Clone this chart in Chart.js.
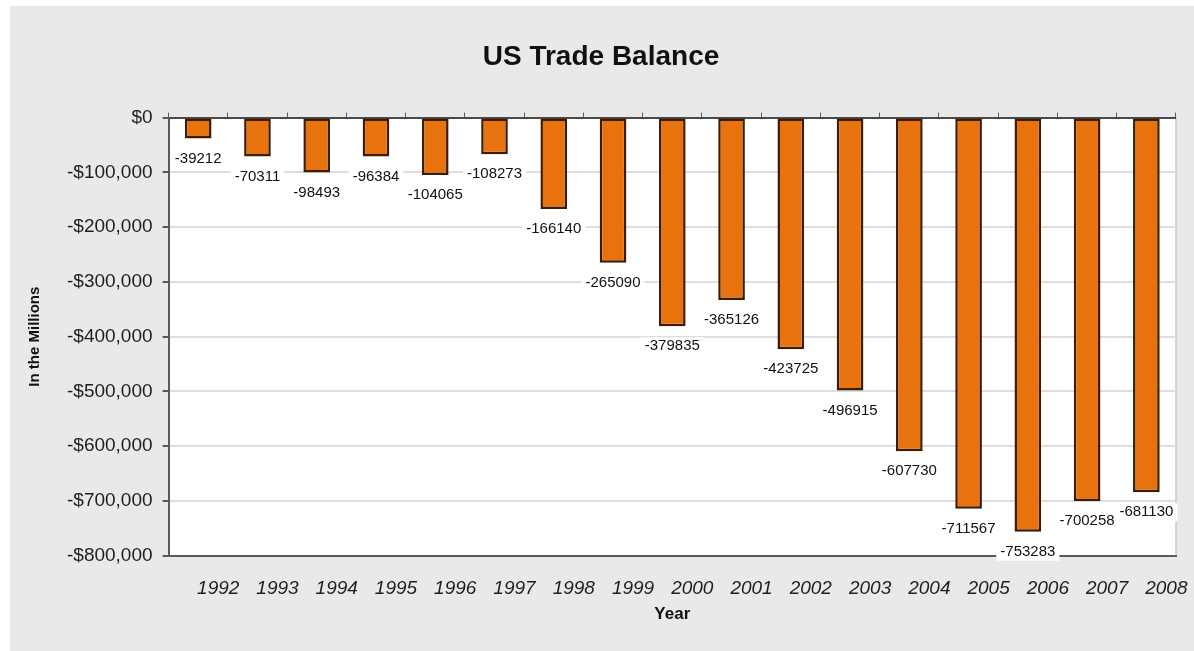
<!DOCTYPE html>
<html>
<head>
<meta charset="utf-8">
<script src="https://cdn.jsdelivr.net/npm/chart.js@4/dist/chart.umd.min.js"></script>
<style>
  html, body { margin: 0; padding: 0; background: #ffffff; }
  #wrap { position: absolute; left: 10px; top: 6px; width: 1184px; height: 645px; }
</style>
</head>
<body>
<div id="wrap"><canvas id="myChart"></canvas></div>
<script>
// Years on the x axis
var years = ['1992', '1993', '1994', '1995', '1996', '1997', '1998', '1999', '2000',
             '2001', '2002', '2003', '2004', '2005', '2006', '2007', '2008'];

// Bar heights as drawn in the picture
var barValues = [-38000, -71000, -100000, -71000, -105000, -67000, -167000, -265000, -381000,
                 -333000, -423000, -498000, -609000, -714000, -756000, -700000, -684000];

// Numbers printed under each bar
var labelValues = [-39212, -70311, -98493, -96384, -104065, -108273, -166140, -265090, -379835,
                   -365126, -423725, -496915, -607730, -711567, -753283, -700258, -681130];

// Y axis range
var yMin = -800000;
var yMax = 0;
var yStep = 100000;

var font = "'Liberation Sans', Arial, sans-serif";

// grey panel + white plot area
var backdrop = {
    id: 'backdrop',
    beforeDraw: function (chart) {
        var c = chart.ctx, a = chart.chartArea;
        c.save();
        c.fillStyle = '#e9e9e9';
        c.fillRect(0, 0, chart.width, chart.height);
        c.fillStyle = '#ffffff';
        c.fillRect(a.left, a.top, a.right - a.left, a.bottom - a.top);
        c.strokeStyle = '#c8c8c8';
        c.lineWidth = 1.5;
        c.beginPath();
        c.moveTo(a.right, a.top);
        c.lineTo(a.right, a.bottom);
        c.stroke();
        c.restore();
    }
};

// value labels with white boxes under the bars
var barLabels = {
    id: 'barLabels',
    afterDatasetsDraw: function (chart) {
        var c = chart.ctx;
        var bars = chart.getDatasetMeta(0).data;
        c.save();
        c.font = '15px ' + font;
        c.textAlign = 'center';
        c.textBaseline = 'middle';
        bars.forEach(function (bar, i) {
            var txt = String(labelValues[i]);
            var w = c.measureText(txt).width;
            var y = bar.y + 20;
            c.fillStyle = '#ffffff';
            c.fillRect(bar.x - w / 2 - 4, y - 9, w + 8, 18);
            c.fillStyle = '#111111';
            c.fillText(txt, bar.x, y);
        });
        c.restore();
    }
};

var ctx = document.getElementById('myChart').getContext('2d');

var myChart = new Chart(ctx, {
    type: 'bar',
    data: {
        labels: years,
        datasets: [{
            label: 'Trade balance',
            data: barValues,
            backgroundColor: '#e8730e',
            borderColor: '#3d1c04',
            borderWidth: 2.5,
            borderSkipped: false,
            barPercentage: 0.45,
            categoryPercentage: 1.0
        }]
    },
    options: {
        responsive: true,
        maintainAspectRatio: false,
        animation: false,
        layout: { padding: { left: 16, right: 18, top: 0, bottom: 26 } },
        plugins: {
            legend: { display: false },
            tooltip: { enabled: false },
            title: {
                display: true,
                text: 'US Trade Balance',
                color: '#111111',
                font: { family: font, size: 28, weight: 'bold' },
                padding: { top: 34, bottom: 39 }
            }
        },
        scales: {
            x: {
                position: 'bottom',
                grid: { display: false },
                border: { display: true, color: '#5a5a5a', width: 2 },
                ticks: {
                    color: '#1e1e1e',
                    font: { family: font, size: 19, style: 'italic' },
                    labelOffset: 20,
                    padding: 14,
                    maxRotation: 0,
                    autoSkip: false
                },
                title: {
                    display: true,
                    text: 'Year',
                    color: '#111111',
                    font: { family: font, size: 17, weight: 'bold' },
                    padding: { top: -10, bottom: 0 }
                }
            },
            xTop: {
                type: 'category',
                position: 'top',
                offset: true,
                grid: { drawOnChartArea: false, tickLength: 5, color: '#5a5a5a', offset: true },
                border: { display: false },
                ticks: { display: false }
            },
            y: {
                min: yMin,
                max: yMax,
                grid: {
                    color: function (c) { return c.tick.value === 0 ? '#4a4a4a' : '#dedede'; },
                    lineWidth: 2,
                    tickLength: 6,
                    tickColor: '#5a5a5a'
                },
                border: { display: true, color: '#5a5a5a', width: 2 },
                ticks: {
                    stepSize: yStep,
                    color: '#1e1e1e',
                    font: { family: font, size: 19 },
                    padding: 10,
                    callback: function (v) {
                        return v === 0 ? '$0' : '-$' + Math.abs(v).toLocaleString('en-US');
                    }
                },
                title: {
                    display: true,
                    text: 'In the Millions',
                    color: '#111111',
                    font: { family: font, size: 15, weight: 'bold' },
                    padding: { top: 0, bottom: 13 }
                }
            }
        }
    },
    plugins: [backdrop, barLabels]
});
</script>
</body>
</html>
